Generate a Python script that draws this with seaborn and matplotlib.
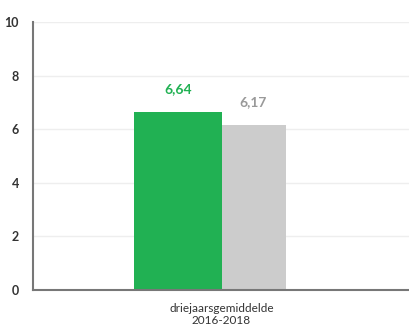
import matplotlib
matplotlib.use("Agg")
import matplotlib.pyplot as plt
import seaborn as sns
import pandas as pd

categories = ["driejaarsgemiddelde\n2016-2018"]
series_names = ["A", "B"]
values = [6.64, 6.17]
value_labels = ["6,64", "6,17"]
colors = ["#21b153", "#cccccc"]
label_colors = ["#21b153", "#999999"]

sns.set_style("white")
plt.rcParams["font.family"] = ["Lato", "DejaVu Sans"]

df = pd.DataFrame({
    "cat": categories * len(values),
    "serie": series_names,
    "waarde": values,
})

fig = plt.figure(figsize=(4.1, 3.3), dpi=100)
ax = fig.add_axes([0.0805, 0.121, 0.9195, 0.812])

sns.barplot(data=df, x="cat", y="waarde", hue="serie", palette=colors,
            dodge=True, width=0.46, legend=False, ax=ax, saturation=1,
            linewidth=0)

# grey bar is narrower than the green one in the original
green, grey = ax.patches[0], ax.patches[1]
green.set_x(-0.231)
green.set_width(0.231)
grey.set_x(0.0)
grey.set_width(0.17)

for p, txt, c in zip([green, grey], value_labels, label_colors):
    ax.annotate(txt, (p.get_x() + p.get_width() / 2, p.get_height()),
                xytext=(0, 12), textcoords="offset points", ha="center",
                va="bottom", color=c, fontsize=10, fontweight="bold")

ax.set_xlim(-0.5, 0.5)
ax.set_ylim(0, 10)
ax.set_yticks([0, 2, 4, 6, 8, 10])
ax.yaxis.grid(True, color="#eeeeee", linewidth=1)
ax.set_axisbelow(True)
ax.set_xlabel("")
ax.set_ylabel("")
ax.tick_params(axis="y", length=0, pad=10, labelsize=9, labelcolor="#333333")
ax.tick_params(axis="x", length=0, pad=9, labelsize=8.5, labelcolor="#333333")
for lab in ax.get_yticklabels():
    lab.set_fontweight("bold")

for s in ["top", "right"]:
    ax.spines[s].set_visible(False)
ax.spines["left"].set_color("#777777")
ax.spines["bottom"].set_color("#777777")
ax.spines["left"].set_linewidth(1.5)
ax.spines["bottom"].set_linewidth(1.5)

fig.savefig("out.png", dpi=100)
